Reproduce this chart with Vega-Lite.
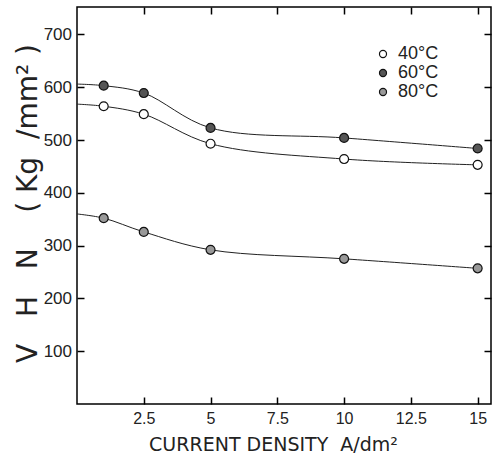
{
  "$schema": "https://vega.github.io/schema/vega-lite/v6.json",
  "width": 414,
  "height": 397,
  "autosize": "none",
  "padding": {"left": 77, "top": 7, "right": 3, "bottom": 52},
  "background": "white",
  "config": {
    "view": {"stroke": "black", "strokeWidth": 1.5},
    "font": "Liberation Sans",
    "axis": {"domain": false, "grid": false, "tickColor": "black", "tickSize": -7, "tickWidth": 1.5, "labelColor": "#222", "titleColor": "#222", "labelFont": "Liberation Sans", "titleFont": "DejaVu Sans", "titleFontWeight": "normal"}
  },
  "data": {
    "values": [
      {"x": 0, "y": 568, "series": "40°C"},
      {"x": 1, "y": 564, "series": "40°C"},
      {"x": 2.5, "y": 549, "series": "40°C"},
      {"x": 5, "y": 493, "series": "40°C"},
      {"x": 10, "y": 464, "series": "40°C"},
      {"x": 15, "y": 453, "series": "40°C"},
      {"x": 0, "y": 606, "series": "60°C"},
      {"x": 1, "y": 603, "series": "60°C"},
      {"x": 2.5, "y": 589, "series": "60°C"},
      {"x": 5, "y": 523, "series": "60°C"},
      {"x": 10, "y": 504, "series": "60°C"},
      {"x": 15, "y": 484, "series": "60°C"},
      {"x": 0, "y": 360, "series": "80°C"},
      {"x": 1, "y": 352, "series": "80°C"},
      {"x": 2.5, "y": 326, "series": "80°C"},
      {"x": 5, "y": 292, "series": "80°C"},
      {"x": 10, "y": 275, "series": "80°C"},
      {"x": 15, "y": 257, "series": "80°C"}
    ]
  },
  "layer": [
    {
      "mark": {"type": "line", "interpolate": "catmull-rom", "color": "#222", "strokeWidth": 1},
      "encoding": {
        "x": {"field": "x", "type": "quantitative", "scale": {"domain": [0, 15.5], "nice": false, "zero": false},
          "axis": {"orient": "bottom", "values": [2.5, 5, 7.5, 10, 12.5, 15], "labelExpr": "'' + datum.value", "labelFontSize": 16, "labelPadding": 13, "title": "CURRENT DENSITY\u00a0\u00a0A/dm²", "titleFontSize": 19, "titlePadding": 9, "titleX": 196}},
        "y": {"field": "y", "type": "quantitative", "scale": {"domain": [0, 752], "nice": false},
          "axis": {"orient": "left", "values": [100, 200, 300, 400, 500, 600, 700], "labelFontSize": 17, "labelPadding": 12.5, "title": "V\u00a0\u00a0\u00a0H\u00a0\u00a0\u00a0N\u00a0\u00a0\u00a0\u00a0(\u00a0Kg\u00a0\u00a0/mm²\u00a0)", "titleFontSize": 28, "titlePadding": 1, "titleY": 196}},
        "detail": {"field": "series"}
      }
    },
    {
      "transform": [{"filter": "datum.x > 0"}],
      "mark": {"type": "point", "shape": "circle", "filled": false, "stroke": "#111", "strokeWidth": 1.2, "size": 80, "opacity": 1},
      "encoding": {
        "x": {"field": "x", "type": "quantitative", "axis": {"orient": "top", "values": [2.5, 5, 7.5, 10, 12.5, 15], "labels": false, "title": null}},
        "y": {"field": "y", "type": "quantitative", "axis": {"orient": "right", "values": [100, 200, 300, 400, 500, 600, 700], "labels": false, "title": null}},
        "fill": {"field": "series", "type": "nominal",
          "scale": {"domain": ["40°C", "60°C", "80°C"], "range": ["white", "#555", "#999"]},
          "legend": {"orient": "none", "legendX": 297, "legendY": 38, "title": null, "labelFont": "Liberation Sans", "labelFontSize": 18, "labelColor": "#222", "symbolSize": 50, "symbolStrokeColor": "#111", "symbolStrokeWidth": 1.2, "rowPadding": 1, "labelOffset": 6, "symbolType": "circle"}}
      }
    }
  ],
  "resolve": {"axis": {"x": "independent", "y": "independent"}}
}
